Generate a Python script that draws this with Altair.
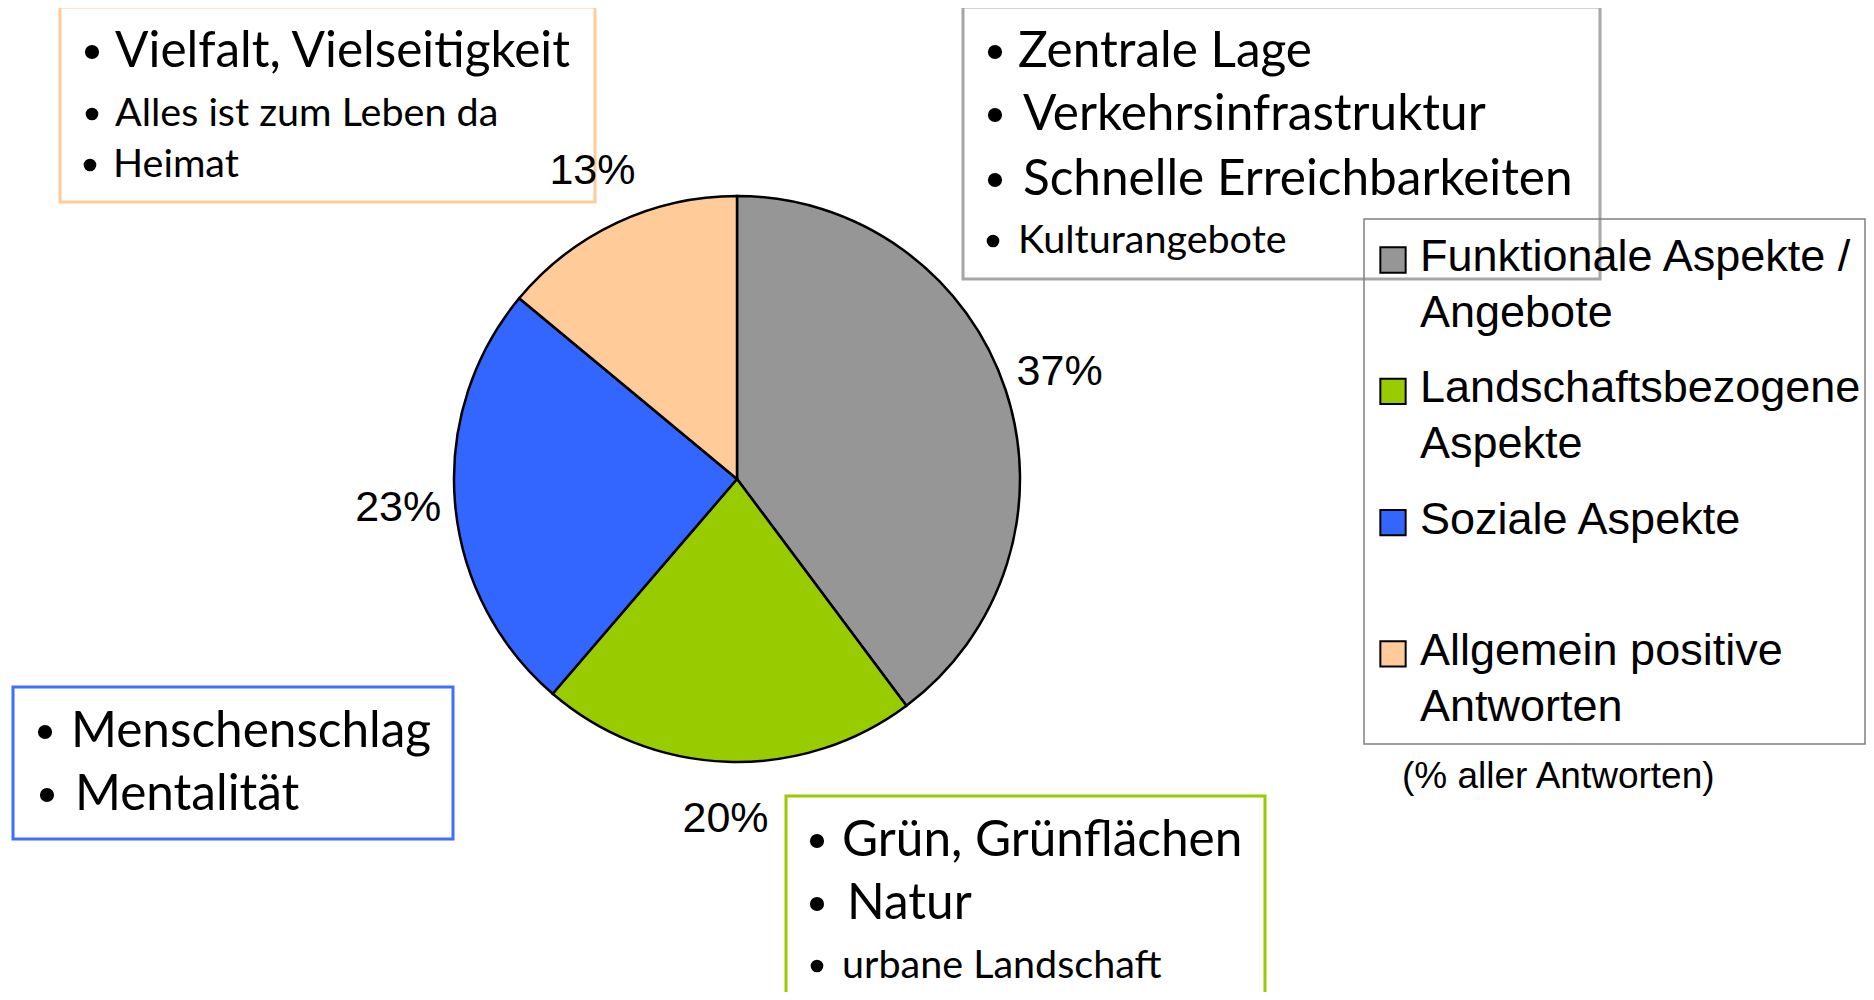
import altair as alt
import pandas as pd

# ---------------- data ----------------
categories = ["Funktionale Aspekte / Angebote", "Landschaftsbezogene Aspekte",
              "Soziale Aspekte", "Allgemein positive Antworten"]
shares = [37, 20, 23, 13]
colors = ["#969696", "#99CC00", "#3366FF", "#FFCC99"]
legend_line1 = ["Funktionale Aspekte /", "Landschaftsbezogene", "Soziale Aspekte", "Allgemein positive"]
legend_line2 = ["Angebote", "Aspekte", "", "Antworten"]
note_text = "(% aller Antworten)"

box_peach_lines = ["Vielfalt, Vielseitigkeit", "Alles ist zum Leben da", "Heimat"]
box_gray_lines = ["Zentrale Lage", "Verkehrsinfrastruktur", "Schnelle Erreichbarkeiten", "Kulturangebote"]
box_blue_lines = ["Menschenschlag", "Mentalität"]
box_green_lines = ["Grün, Grünflächen", "Natur", "urbane Landschaft"]

# ---------------- layout (page pixels) ----------------
M = 8
W, H = 1858, 984
CX, CY, R = 737 - M, 479 - M, 283
LABEL_R = 340
BIG, SMALL = 49.5, 39.5
TEXT_FONT = "Lato"
ARIAL = "Liberation Sans"

# (line list, x of text, baselines, sizes, bullet x)
box_layout = [
    (box_peach_lines, [115, 115, 113], [67, 126, 177], [BIG, SMALL, SMALL], [92, 92, 90]),
    (box_gray_lines, [1018, 1023, 1023, 1018], [67, 130, 195, 253], [BIG, BIG, BIG, SMALL], [995, 995, 995, 993]),
    (box_blue_lines, [71, 75], [747, 810], [BIG, BIG], [45, 47]),
    (box_green_lines, [842, 847, 842], [856, 919, 978], [BIG, BIG, SMALL], [817, 817, 817]),
]
frames = [  # x, y, x2, y2, colour, width
    (60, 7, 595, 202, "#FFCC99", 3),
    (963, 7, 1600, 279, "#A6A6A6", 3),
    (13, 687, 453, 839, "#3F6FFF", 3),
    (786, 796, 1265, 1020, "#99CC00", 3),
    (1364, 219, 1865, 744, "#808080", 1.5),
]

rows = []
bullets = []
for lines, xs_, bls, sizes, bxs in box_layout:
    for t, x, b, s, bx in zip(lines, xs_, bls, sizes, bxs):
        rows.append({"t": t, "x": x - M, "y": b - M, "fs": s})
        bullets.append({"x": bx - M, "y": b - M - (15 if s == BIG else 12),
                        "bs": 200 if s == BIG else 160})
text_df = pd.DataFrame(rows)
bullet_df = pd.DataFrame(bullets)
frame_df = pd.DataFrame([{"x": a - M, "y": b - M, "x2": c - M, "y2": d - M, "col": e, "sw": f}
                         for a, b, c, d, e, f in frames])

LEG_STEP = 131.3
leg_sw = pd.DataFrame({"cat": categories,
                       "x": [1393 - M] * 4,
                       "y": [260 - M + i * LEG_STEP for i in range(4)]})
leg_txt_rows = []
for i, (l1, l2) in enumerate(zip(legend_line1, legend_line2)):
    leg_txt_rows.append({"t": l1, "x": 1420 - M, "y": 271 - M + i * LEG_STEP, "fs": 45})
    if l2:
        leg_txt_rows.append({"t": l2, "x": 1420 - M, "y": 327 - M + i * LEG_STEP, "fs": 45})
leg_txt_rows.append({"t": note_text, "x": 1402 - M, "y": 788 - M, "fs": 37})
leg_txt = pd.DataFrame(leg_txt_rows)

xs = alt.Scale(domain=[0, W], range=[0, W], nice=False, zero=False)
ys = alt.Scale(domain=[0, H], range=[0, H], nice=False, zero=False)
cscale = alt.Scale(domain=categories, range=colors)

pie_df = pd.DataFrame({"cat": categories, "share": shares, "idx": list(range(len(categories))),
                       "label": [f"{v}%" for v in shares]})

base = alt.Chart(pie_df).encode(
    theta=alt.Theta("share:Q", stack=True),
    order=alt.Order("idx:Q"),
)
arcs = base.mark_arc(outerRadius=R, stroke="black", strokeWidth=2.5).encode(
    color=alt.Color("cat:N", scale=cscale, legend=None),
    x=alt.value(CX), y=alt.value(CY))
pct = base.mark_text(radius=LABEL_R, font=ARIAL, fontSize=43, color="black").encode(
    text="label:N", x=alt.value(CX), y=alt.value(CY))

frames_layer = alt.Chart(frame_df).mark_rect(fillOpacity=0).encode(
    x=alt.X("x:Q", scale=xs, axis=None), x2="x2:Q",
    y=alt.Y("y:Q", scale=ys, axis=None), y2="y2:Q",
    stroke=alt.Stroke("col:N", scale=None),
    strokeWidth=alt.StrokeWidth("sw:Q", scale=None))

texts = alt.Chart(text_df).mark_text(align="left", baseline="alphabetic", font=TEXT_FONT, color="black").encode(
    x=alt.X("x:Q", scale=xs, axis=None), y=alt.Y("y:Q", scale=ys, axis=None),
    text="t:N", size=alt.Size("fs:Q", scale=None))

bullet_layer = alt.Chart(bullet_df).mark_circle(color="black", opacity=1).encode(
    x=alt.X("x:Q", scale=xs, axis=None), y=alt.Y("y:Q", scale=ys, axis=None),
    size=alt.Size("bs:Q", scale=None))

swatches = alt.Chart(leg_sw).mark_square(size=640, filled=True, stroke="black", strokeWidth=2, opacity=1).encode(
    x=alt.X("x:Q", scale=xs, axis=None), y=alt.Y("y:Q", scale=ys, axis=None),
    color=alt.Color("cat:N", scale=cscale, legend=None))

leg_texts = alt.Chart(leg_txt).mark_text(align="left", baseline="alphabetic", font=ARIAL, color="black").encode(
    x=alt.X("x:Q", scale=xs, axis=None), y=alt.Y("y:Q", scale=ys, axis=None),
    text="t:N", size=alt.Size("fs:Q", scale=None))

chart = alt.layer(arcs, frames_layer, texts, bullet_layer, swatches, leg_texts, pct).properties(
    width=W, height=H, padding=0,
    autosize=alt.AutoSizeParams(type="none"),
    background="white",
).configure_view(stroke=None)

chart.save("out.html", embed_options={"renderer": "svg", "actions": False})
